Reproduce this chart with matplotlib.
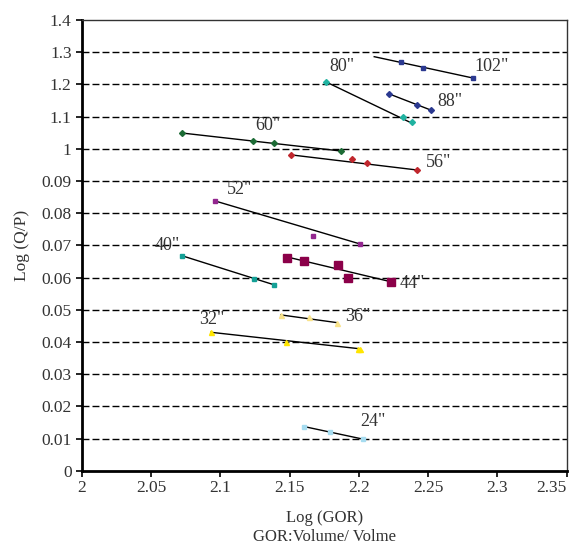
import matplotlib.pyplot as plt
import numpy as np

plt.rcParams['font.family'] = ['Liberation Serif', 'DejaVu Serif']

# y axis of the original chart: evenly spaced ticks with these labels
y_tick_labels = ["0", "0.01", "0.02", "0.03", "0.04", "0.05", "0.06", "0.07",
                 "0.08", "0.09", "1", "1.1", "1.2", "1.3", "1.4"]
x_ticks = [2, 2.05, 2.1, 2.15, 2.2, 2.25, 2.3, 2.35]

# pipe sizes
sizes = ['102"', '88"', '80"', '60"', '56"', '52"', '44"', '40"', '36"', '32"', '24"']

# Log(GOR) of each point (per size)
gor = [
    [2.230, 2.246, 2.282],
    [2.222, 2.242, 2.252],
    [2.176, 2.232, 2.238],
    [2.072, 2.1235, 2.139, 2.187],
    [2.151, 2.195, 2.206, 2.242],
    [2.096, 2.167, 2.201],
    [2.148, 2.1605, 2.185, 2.192, 2.223],
    [2.072, 2.1245, 2.139],
    [2.144, 2.164, 2.184],
    [2.093, 2.147, 2.199, 2.201],
    [2.1605, 2.179, 2.203],
]

# Log(Q/P) of each point, in units of the y tick grid
qp = [
    [12.69, 12.51, 12.20],
    [11.70, 11.37, 11.20],
    [12.07, 10.99, 10.82],
    [10.49, 10.23, 10.19, 9.93],
    [9.81, 9.67, 9.56, 9.34],
    [8.38, 7.29, 7.04],
    [6.61, 6.52, 6.39, 6.00, 5.86],
    [6.68, 5.96, 5.77],
    [4.84, 4.76, 4.60],
    [4.30, 4.00, 3.79, 3.79],
    [1.37, 1.21, 0.98],
]

# trend line ends (x0, x1) and (y0, y1)
trend_x = [(2.211, 2.282), (2.222, 2.252), (2.176, 2.237), (2.072, 2.187),
           (2.151, 2.242), (2.096, 2.201), (2.148, 2.223), (2.072, 2.139),
           (2.1435, 2.184), (2.093, 2.200), (2.1605, 2.203)]
trend_y = [(12.86, 12.20), (11.70, 11.20), (12.08, 10.82), (10.49, 9.93),
           (9.81, 9.34), (8.38, 7.04), (6.64, 5.87), (6.68, 5.77),
           (4.84, 4.60), (4.30, 3.79), (1.37, 0.98)]

# label positions
label_x = [2.296, 2.2657, 2.1875, 2.1345, 2.2573, 2.1141, 2.2388, 2.0612, 2.1988, 2.094, 2.2099]
label_y = [12.55, 11.48, 12.57, 10.73, 9.57, 8.72, 5.82, 6.98, 4.78, 4.70, 1.52]

colors = ['#2B3990', '#2B3990', '#20B2A0', '#1C6B35', '#C0272D', '#93278F',
          '#8B0049', '#14A096', '#F9E38A', '#FFE500', '#A6DCF0']
markers = ['s', 'D', 'D', 'D', 'D', 's', 's', 's', '^', '^', 's']
msizes = [3.2, 3.0, 3.0, 3.0, 3.0, 3.2, 6.2, 3.2, 3.6, 3.6, 3.2]

fig = plt.figure(figsize=(5.71, 5.46), dpi=100)
ax = fig.add_axes([0.1436, 0.1379, 0.8489, 0.8255])

for i in range(len(sizes)):
    ax.plot(trend_x[i], trend_y[i], color='black', lw=1.0, zorder=3)
    ax.plot(gor[i], qp[i], linestyle='none', marker=markers[i], ms=msizes[i],
            color=colors[i], mec=colors[i], zorder=4)
    ax.text(label_x[i], label_y[i], sizes[i], fontsize=13, color='#333333',
            ha='center', va='center')

ax.set_xlim(2, 2.35)
ax.set_ylim(0, 14)
ax.set_xticks(x_ticks)
ax.set_xticklabels([f"{v:g}" for v in x_ticks])
ax.set_yticks(range(len(y_tick_labels)))
ax.set_yticklabels(y_tick_labels)
# last x label kept inside the figure, as in the original
ax.get_xticklabels()[-1].set_horizontalalignment('right')

for yv in range(1, 14):
    ax.axhline(yv, color='black', lw=1.0, dashes=(5, 2.2), zorder=1)

ax.spines['left'].set_linewidth(2.0)
ax.spines['bottom'].set_linewidth(2.0)
ax.spines['top'].set_linewidth(1.0)
ax.spines['right'].set_linewidth(1.0)
ax.spines['top'].set_color('#333333')
ax.spines['right'].set_color('#333333')
ax.tick_params(axis='both', direction='out', length=4, width=1.2,
               labelsize=12.5, labelcolor='#333333')
ax.tick_params(axis='x', pad=3)

ax.set_ylabel("Log (Q/P)", fontsize=12.5, color='#333333', labelpad=8)
ax.set_xlabel("Log (GOR)\nGOR:Volume/ Volme", fontsize=12, color='#333333',
              labelpad=10, linespacing=1.25)

fig.savefig("out.png", dpi=100)
